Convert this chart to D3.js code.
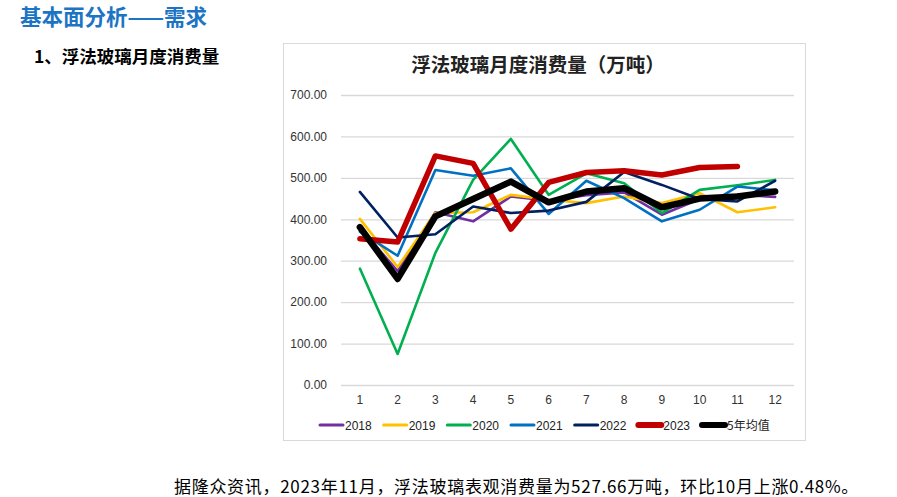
<!DOCTYPE html>
<html>
<head>
<meta charset="utf-8">
<script src="https://cdn.jsdelivr.net/npm/d3@7/dist/d3.min.js"></script>
<style>
  html, body { margin: 0; padding: 0; background: #ffffff; }
  svg { display: block; }
</style>
</head>
<body>
<svg id="chart" width="897" height="497"></svg>
<script>
const months = ["1","2","3","4","5","6","7","8","9","10","11","12"];
const yTicks = [0,100,200,300,400,500,600,700];
const seriesNames = ["2018","2019","2020","2021","2022","2023","5年均值"];
const s2018 = [380,275,417,395,455,445,458,465,411,449,459,454];
const s2019 = [401,285,415,417,459,447,439,455,439,463,417,429];
const s2020 = [281,75,319,495,594,459,511,487,415,471,482,495];
const s2021 = [370,312,519,505,523,413,493,451,395,423,479,470];
const s2022 = [466,356,364,431,415,421,442,514,483,449,443,493];
const s2023 = [353,345,553,535,376,489,513,517,507,525.1,527.66];
const sAvg  = [381,256,407,449,491,441,467,475,429,450,455,467];
const seriesValues = [s2018,s2019,s2020,s2021,s2022,s2023,sAvg];
const seriesColors = ["#7030a0","#ffc000","#00b050","#0070c0","#002060","#c00000","#000000"];
const seriesWidths = [2.6,2.6,2.6,2.6,2.6,5.5,6.5];

const headerText = "基本面分析——需求";
const subText = "1、浮法玻璃月度消费量";
const titleText = "浮法玻璃月度消费量（万吨）";
const noteText = "据隆众资讯，2023年11月，浮法玻璃表观消费量为527.66万吨，环比10月上涨0.48%。";

const svg = d3.select("#chart");
const cjk = "'Noto Sans CJK SC', 'Noto Sans', sans-serif";
const latin = "'Liberation Sans', Arial, sans-serif";

svg.append("rect").attr("width",897).attr("height",497).attr("fill","#fff");

svg.append("text").attr("x",20).attr("y",25).text(headerText)
  .attr("font-family",cjk).attr("font-weight","bold").attr("font-size",21.5)
  .attr("fill","#1c74c4");

svg.append("text").attr("x",34).attr("y",63).text(subText)
  .attr("font-family",cjk).attr("font-weight","bold").attr("font-size",17.5)
  .attr("fill","#000");

// chart box
svg.append("rect").attr("x",283.5).attr("y",43.5).attr("width",522).attr("height",397)
  .attr("fill","#fff").attr("stroke","#d9d9d9").attr("stroke-width",1);

svg.append("text").attr("x",538).attr("y",72).attr("text-anchor","middle").text(titleText)
  .attr("font-family",cjk).attr("font-weight","bold").attr("font-size",19.5)
  .attr("fill","#222");

const x = d3.scaleBand().domain(months).range([341,794]);
const y = d3.scaleLinear().domain([0,700]).range([385,95]);

const yAxis = d3.axisLeft(y).tickValues(yTicks).tickSize(-(794-341)).tickFormat(d3.format(".2f")).tickPadding(14);
const gy = svg.append("g").attr("transform","translate(341,0)").call(yAxis);
gy.select(".domain").remove();
gy.selectAll(".tick line").attr("stroke","#d9d9d9").attr("stroke-width",1.3);
gy.selectAll(".tick text").attr("font-family",latin).attr("font-size",12).attr("fill","#333");

const xAxis = d3.axisBottom(x).tickSize(0).tickPadding(10);
const gx = svg.append("g").attr("transform","translate(0,385)").call(xAxis);
gx.select(".domain").remove();
gx.selectAll(".tick text").attr("font-family",latin).attr("font-size",12).attr("fill","#333");

const line = d3.line().x((d,i)=>x(months[i])+x.bandwidth()/2).y(d=>y(d));

seriesValues.forEach((vals,k)=>{
  svg.append("path").datum(vals).attr("d",line)
    .attr("fill","none").attr("stroke",seriesColors[k]).attr("stroke-width",seriesWidths[k])
    .attr("stroke-linejoin","round").attr("stroke-linecap","round");
});

// legend
const legX = d3.scalePoint().domain(seriesNames).range([320,702]);
const leg = svg.append("g");
seriesNames.forEach((n,k)=>{
  const lx = legX(n);
  leg.append("line").attr("x1",lx).attr("x2",lx+23).attr("y1",425).attr("y2",425)
    .attr("stroke",seriesColors[k]).attr("stroke-width",Math.min(seriesWidths[k]+0.4,6))
    .attr("stroke-linecap","round");
  leg.append("text").attr("x",lx+25).attr("y",429.5).text(n)
    .attr("font-family", k===6 ? cjk : latin).attr("font-size",12).attr("fill","#222");
});

svg.append("text").attr("x",174).attr("y",493).text(noteText)
  .attr("font-family",cjk).attr("font-size",17).attr("letter-spacing",0.7).attr("fill","#000");
</script>
</body>
</html>
